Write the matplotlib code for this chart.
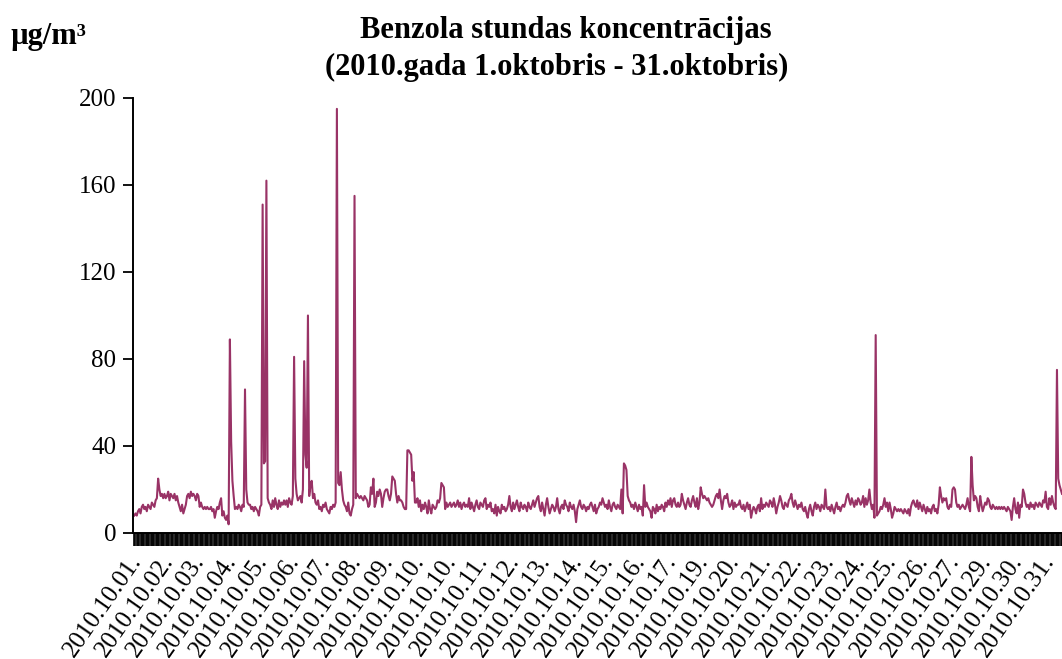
import matplotlib
matplotlib.use("Agg")
import matplotlib.pyplot as plt
import matplotlib.transforms as mtransforms

# hourly benzene values, one list per day (24 h)
okt01 = [8, 9, 8, 10, 11, 9, 12, 13, 11, 12, 10, 13, 12, 11, 14, 13, 12, 15, 16, 25, 20, 17, 18, 16]
okt02 = [18, 16, 17, 19, 15, 18, 17, 16, 18, 15, 17, 14, 12, 10, 13, 9, 11, 13, 17, 18, 16, 19, 17, 18]
okt03 = [17, 15, 18, 17, 12, 14, 12, 11, 12, 11, 12, 11, 11, 12, 10, 11, 7, 10, 12, 11, 14, 16, 8, 10]
okt04 = [7, 6, 8, 4, 89, 42, 24, 17, 11, 12, 11, 13, 12, 10, 13, 12, 66, 20, 14, 13, 13, 11, 12, 10]
okt05 = [12, 11, 10, 8, 12, 13, 151, 32, 33, 162, 16, 14, 13, 11, 15, 12, 16, 13, 11, 15, 12, 14, 13, 15]
okt06 = [13, 15, 12, 16, 14, 13, 17, 81, 25, 18, 15, 16, 17, 14, 20, 79, 36, 30, 100, 17, 22, 24, 16, 18]
okt07 = [14, 13, 15, 11, 12, 10, 13, 12, 14, 11, 10, 9, 12, 11, 13, 12, 14, 195, 23, 22, 28, 20, 15, 13]
okt08 = [12, 10, 14, 9, 8, 11, 13, 155, 16, 18, 17, 16, 17, 16, 15, 17, 16, 15, 12, 13, 21, 18, 25, 12]
okt09 = [14, 19, 17, 20, 18, 12, 16, 19, 20, 20, 17, 15, 18, 26, 25, 24, 18, 14, 17, 15, 15, 14, 12, 11]
okt10 = [11, 38, 38, 37, 36, 24, 28, 14, 14, 16, 12, 15, 10, 13, 11, 14, 12, 9, 15, 11, 9, 13, 12, 11]
okt11 = [12, 15, 14, 16, 23, 22, 21, 11, 14, 12, 13, 14, 12, 13, 14, 12, 13, 15, 12, 14, 11, 13, 14, 12]
okt12 = [13, 12, 16, 11, 14, 12, 10, 13, 15, 12, 11, 14, 13, 12, 15, 16, 11, 13, 12, 14, 10, 11, 9, 13]
okt13 = [8, 12, 10, 9, 13, 11, 12, 10, 11, 13, 17, 12, 10, 14, 11, 13, 15, 12, 10, 14, 12, 11, 13, 12]
okt14 = [10, 14, 12, 11, 13, 15, 12, 14, 16, 17, 12, 10, 14, 11, 8, 13, 16, 12, 9, 11, 13, 12, 10, 12]
okt15 = [16, 11, 9, 12, 13, 11, 15, 13, 12, 10, 14, 12, 11, 13, 10, 5, 11, 13, 15, 12, 11, 13, 12, 10]
okt16 = [12, 11, 13, 14, 12, 10, 13, 9, 11, 12, 14, 13, 16, 14, 12, 13, 11, 15, 12, 10, 13, 14, 12, 11]
okt17 = [13, 12, 11, 20, 9, 32, 31, 29, 17, 15, 14, 12, 13, 11, 14, 12, 10, 13, 11, 12, 8, 22, 12, 14]
okt18 = [12, 11, 10, 7, 12, 11, 9, 13, 10, 12, 11, 13, 12, 10, 14, 12, 15, 13, 16, 12, 15, 16, 13, 12]
okt19 = [14, 12, 13, 18, 15, 13, 11, 14, 16, 13, 12, 15, 17, 14, 12, 16, 11, 14, 21, 18, 16, 17, 16, 15]
okt20 = [16, 14, 13, 12, 13, 15, 17, 18, 16, 20, 15, 11, 15, 17, 16, 18, 14, 12, 13, 15, 11, 14, 12, 13]
okt21 = [13, 15, 12, 11, 13, 10, 12, 14, 11, 13, 7, 10, 12, 11, 9, 12, 13, 10, 16, 11, 13, 12, 14, 13]
okt22 = [12, 15, 14, 12, 16, 13, 9, 12, 14, 17, 15, 12, 11, 14, 13, 12, 15, 16, 18, 14, 12, 15, 13, 11]
okt23 = [13, 12, 14, 11, 10, 12, 9, 7, 11, 13, 10, 8, 12, 14, 11, 13, 12, 10, 13, 12, 11, 20, 12, 11]
okt24 = [12, 10, 13, 11, 9, 12, 14, 11, 12, 10, 12, 13, 12, 14, 17, 18, 15, 13, 16, 14, 12, 15, 13, 16]
okt25 = [15, 13, 14, 17, 12, 16, 13, 15, 20, 14, 11, 13, 7, 91, 8, 9, 10, 12, 11, 13, 16, 12, 14, 10]
okt26 = [14, 11, 7, 9, 12, 11, 10, 11, 10, 11, 10, 9, 11, 10, 9, 11, 8, 12, 14, 15, 13, 12, 15, 11]
okt27 = [14, 12, 10, 13, 11, 9, 12, 10, 11, 9, 12, 13, 10, 11, 9, 13, 21, 17, 14, 16, 15, 16, 12, 11]
okt28 = [13, 12, 20, 21, 20, 14, 12, 13, 11, 12, 13, 12, 11, 13, 16, 12, 10, 35, 22, 15, 17, 16, 12, 10]
okt29 = [17, 13, 10, 12, 14, 13, 16, 15, 12, 11, 13, 12, 11, 12, 11, 12, 11, 12, 11, 12, 11, 10, 12, 11]
okt30 = [10, 6, 12, 16, 11, 9, 14, 7, 13, 12, 20, 18, 14, 12, 13, 11, 14, 12, 13, 11, 14, 13, 12, 14]
okt31 = [13, 12, 15, 14, 19, 12, 11, 16, 13, 17, 14, 12, 11, 75, 25, 22, 20, 18]

# category labels as they appear under the axis (Excel shows every 25th)
date_labels = ["2010.10.01.", "2010.10.02.", "2010.10.03.", "2010.10.04.", "2010.10.05.",
               "2010.10.06.", "2010.10.07.", "2010.10.08.", "2010.10.09.", "2010.10.10.",
               "2010.10.10.", "2010.10.11.", "2010.10.12.", "2010.10.13.", "2010.10.14.",
               "2010.10.15.", "2010.10.16.", "2010.10.17.", "2010.10.19.", "2010.10.20.",
               "2010.10.21.", "2010.10.22.", "2010.10.23.", "2010.10.24.", "2010.10.25.",
               "2010.10.26.", "2010.10.27.", "2010.10.29.", "2010.10.30.", "2010.10.31."]
label_step = 25

y_ticks = [0, 40, 80, 120, 160, 200]


def plot_benzene():
    days = [okt01, okt02, okt03, okt04, okt05, okt06, okt07, okt08, okt09, okt10,
            okt11, okt12, okt13, okt14, okt15, okt16, okt17, okt18, okt19, okt20,
            okt21, okt22, okt23, okt24, okt25, okt26, okt27, okt28, okt29, okt30, okt31]
    values = [v for d in days for v in d]
    hours = list(range(len(values)))

    plt.rcParams['font.family'] = ['Liberation Serif', 'DejaVu Serif']

    fig = plt.figure(figsize=(10.62, 6.59), dpi=100)
    ax = fig.add_axes([0.1252, 0.1912, 0.8748, 0.6601])

    ax.plot(hours, values, color='#993366', linewidth=1.5)

    ax.set_xlim(-1, len(values) - 1)
    ax.set_ylim(0, 200)
    ax.set_yticks(y_ticks)
    ax.tick_params(axis='y', labelsize=18, length=7, width=1.3, pad=5)

    # a tick for every hour, label only every 25th
    labels = [''] * len(values)
    for i, lab in enumerate(date_labels):
        labels[i * label_step] = lab
    ax.set_xticks(hours)
    ax.set_xticklabels(labels, rotation=55, ha='right', va='top', rotation_mode='anchor')
    ax.tick_params(axis='x', labelsize=18, length=9, width=1.2, pad=4)
    shift = mtransforms.ScaledTranslation(-6 / 100, 0, fig.dpi_scale_trans)
    for t in ax.get_xticklabels():
        t.set_transform(t.get_transform() + shift)

    for side in ['top', 'right']:
        ax.spines[side].set_visible(False)
    for side in ['left', 'bottom']:
        ax.spines[side].set_linewidth(1.4)

    fig.text(0.533, 0.953, 'Benzola stundas koncentrācijas', ha='center', va='center',
             fontsize=22, fontweight='bold')
    fig.text(0.524, 0.897, '(2010.gada 1.oktobris - 31.oktobris)', ha='center', va='center',
             fontsize=22, fontweight='bold')
    fig.text(0.01, 0.944, 'µg/m³', ha='left', va='center', fontsize=22, fontweight='bold')

    fig.savefig('out.png', dpi=100)


if __name__ == "__main__":
    plot_benzene()
